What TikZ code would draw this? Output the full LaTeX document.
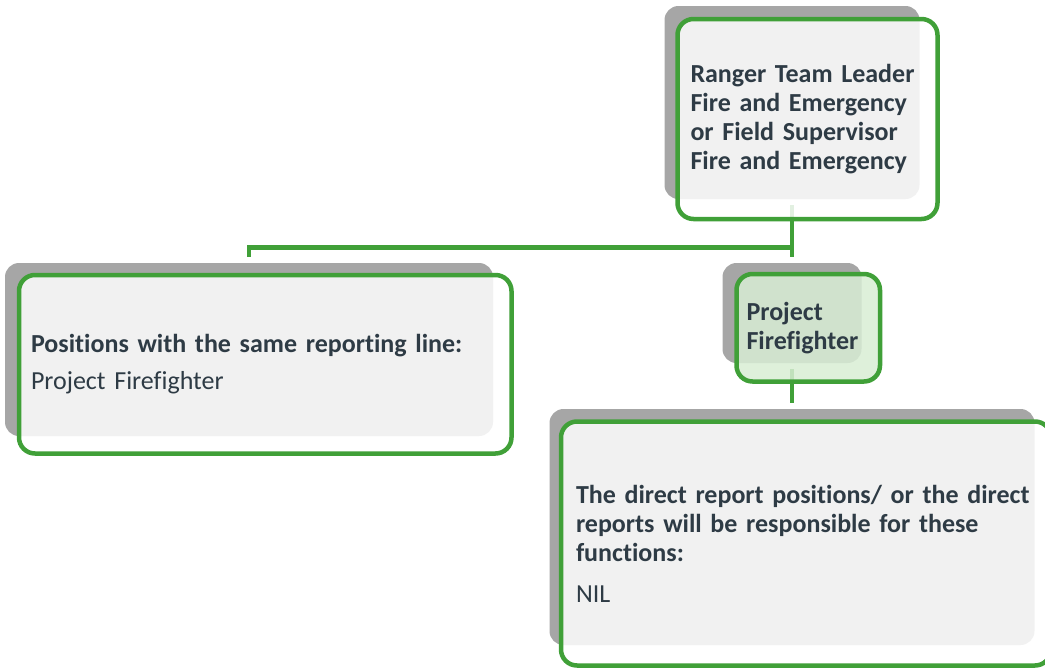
\documentclass[tikz,border=0pt]{standalone}
\usepackage{fontspec}
\setmainfont{Carlito}[Ligatures=NoCommon]
\definecolor{boxgreen}{RGB}{64,160,56}
\definecolor{backgray}{RGB}{166,166,166}
\definecolor{tintgreen}{RGB}{216,237,212}
\definecolor{inkslate}{HTML}{2E3B45}
\begin{document}
\begin{tikzpicture}[x=1pt,y=-1pt,
    back/.style={fill=backgray,rounded corners=14pt,inner sep=0pt},
    card/.style={draw=boxgreen,line width=4.5pt,rounded corners=16pt,fill=white,fill opacity=0.85,
        text opacity=1,text=inkslate,align=left,font=\fontsize{26}{29}\selectfont},
    link/.style={draw=boxgreen,line width=4.5pt}]
    \useasboundingbox (0,0) rectangle (1045,670);
    % shadows behind the cards
    \node[back,minimum width=255pt,minimum height=193pt] (leadback) at (792,102.5) {};
    \node[back,minimum width=488pt,minimum height=173pt] (peerback) at (249,349.5) {};
    \node[back,minimum width=139pt,minimum height=100pt] (roleback) at (792,313) {};
    \node[back,minimum width=485pt,minimum height=236pt] (dutyback) at (792,527) {};
    % reporting lines
    \path (leadback.south) ++(0,48.5) coordinate (junction);
    \draw[link] ([yshift=-6pt]leadback.south) -- (junction);
    \draw[link] ([yshift=6pt]peerback.north) |- (junction) -- ([yshift=6pt]roleback.north);
    \draw[link] ([yshift=-6pt]roleback.south) -- ([yshift=6pt]dutyback.north);
    % cards
    \node[card,minimum width=260pt,minimum height=200pt,inner xsep=13pt,text width=234pt] (lead) at (807.5,119)
        {\textbf{Ranger Team Leader\\Fire and Emergency\\or Field Supervisor\\Fire and Emergency}};
    \node[card,minimum width=492.5pt,minimum height=178.5pt,inner xsep=12pt,text width=468.5pt] (peer) at (265.25,364.25)
        {\textbf{Positions with the same reporting line:}\\[8pt]Project Firefighter};
    \node[card,fill=tintgreen,minimum width=143.5pt,minimum height=107.5pt,inner xsep=10pt,text width=123.5pt] (role) at (808.25,327.75)
        {\textbf{Project\\Firefighter}};
    \node[card,minimum width=490pt,minimum height=244pt,inner xsep=15pt,text width=460pt] (duty) at (806,543.5)
        {\textbf{The direct report positions/ or the direct\\reports will be responsible for these\\functions:}\\[12pt]NIL};
\end{tikzpicture}
\end{document}
